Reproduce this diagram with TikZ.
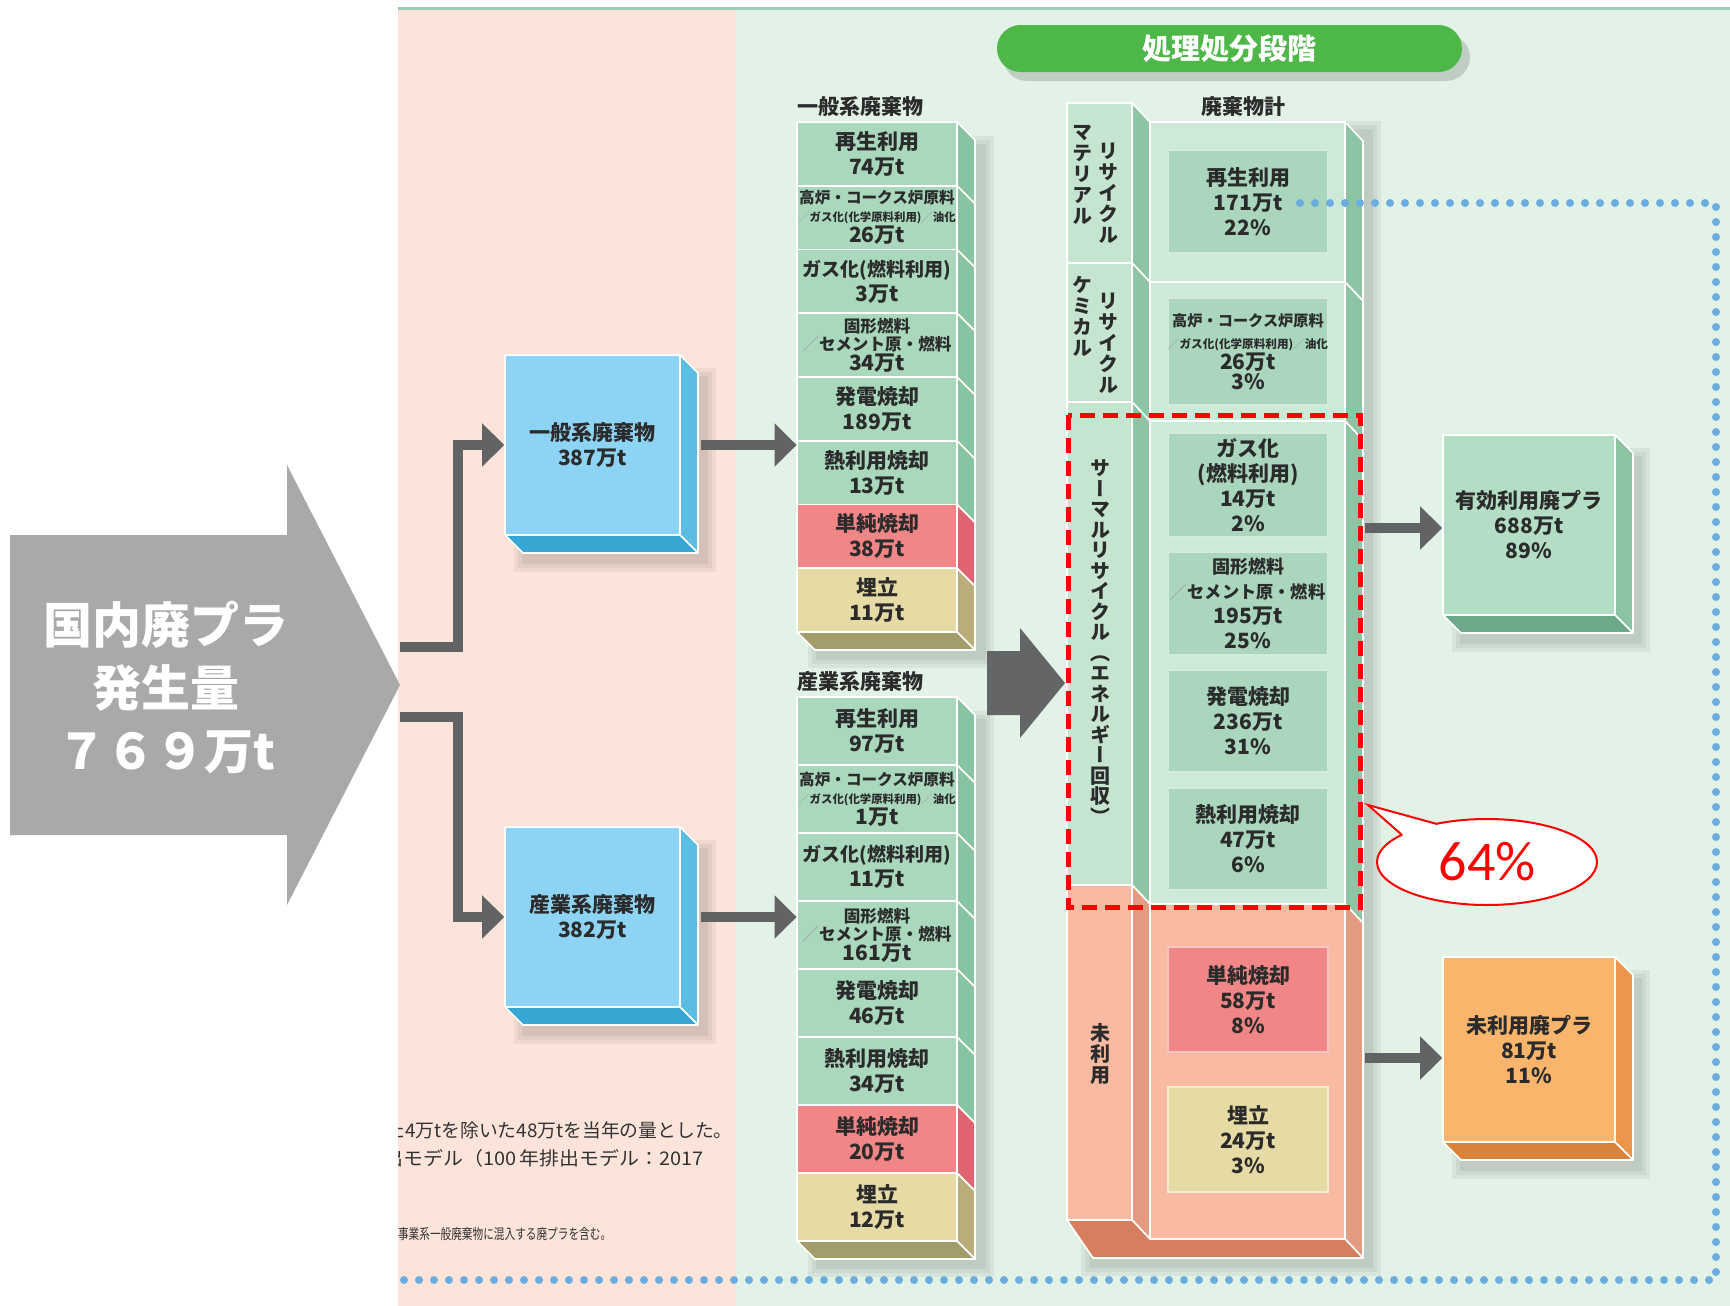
\documentclass[tikz,border=0pt]{standalone}
\usepackage{fontspec}
\usepackage{graphicx}
\setmainfont{Noto Sans CJK JP}
\newfontfamily\vjp{Noto Sans CJK JP}[RawFeature=+vert]
\newfontfamily\calib{Carlito}
\usetikzlibrary{arrows.meta,shapes.geometric}
\definecolor{pinkbg}{HTML}{FCE4DA}
\definecolor{greenbg}{HTML}{E2F2E6}
\definecolor{topline}{HTML}{9FCBB6}
\definecolor{arrowgray}{HTML}{AAA8A8}
\definecolor{conngray}{HTML}{626365}
\definecolor{darkarrow}{HTML}{646567}
\definecolor{pillgreen}{HTML}{4DB748}
\definecolor{bluef}{HTML}{8DD3F4}
\definecolor{blues}{HTML}{5BBCE4}
\definecolor{blueb}{HTML}{36A6D3}
\definecolor{rowg}{HTML}{A9D8BD}
\definecolor{rowgs}{HTML}{88C3A2}
\definecolor{rowr}{HTML}{F08686}
\definecolor{rowrs}{HTML}{DF6470}
\definecolor{rowt}{HTML}{E7DBA5}
\definecolor{rowts}{HTML}{B9AE7B}
\definecolor{rowtb}{HTML}{A39D6C}
\definecolor{towg}{HTML}{CDE9D8}
\definecolor{towgl}{HTML}{C6E5D1}
\definecolor{towgs}{HTML}{8CC4A4}
\definecolor{towp}{HTML}{F8BBA2}
\definecolor{towps}{HTML}{E39B82}
\definecolor{towpb}{HTML}{D67F60}
\definecolor{inng}{HTML}{A9D6BD}
\definecolor{goodf}{HTML}{B3DEC5}
\definecolor{goods}{HTML}{8CC3A3}
\definecolor{goodb}{HTML}{6CA989}
\definecolor{badf}{HTML}{F9B56C}
\definecolor{bads}{HTML}{EA964B}
\definecolor{badb}{HTML}{D8823A}
\definecolor{dotblue}{HTML}{6CADE0}
\definecolor{txt}{HTML}{2B2B2B}
\definecolor{note}{HTML}{333333}
\tikzset{
  conn/.style={draw=conngray,line width=5pt,-{Triangle[width=21pt,length=11pt]}},
  face/.style={draw=white,line width=0.8pt,line join=round},
  txtc/.style={text=txt,align=center,inner sep=0pt,font=\bfseries\fontsize{10.5pt}{12.5pt}\selectfont},
  rowA/.style={face,txtc,minimum width=80pt,minimum height=31.875pt},
  rowB/.style={face,txtc,minimum width=80pt,minimum height=34pt},
  inbox/.style={draw=white!50!inng,line width=0.8pt,txtc,minimum width=80pt},
  vtxt/.style={text=txt,align=center,inner sep=0pt,font=\vjp\bfseries\fontsize{10pt}{10.5pt}\selectfont},
  headtxt/.style={text=txt,inner sep=0pt,font=\bfseries\fontsize{10.5pt}{12pt}\selectfont},
  notetxt/.style={text=note,inner sep=0pt,anchor=west,font=\fontsize{9.4pt}{11pt}\selectfont},
  hidden/.style={inner sep=0pt,draw=none,fill=none},
  spec/.style={font=\bfseries\fontsize{10.5pt}{9pt}\selectfont},
}
\newcommand\slh{{\color{black!35}／}}
\newcommand\softshadow[4]{%
  \fill[black,opacity=0.05] ({#1-4},{#2-4}) rectangle ({#3+4},{#4+4});
  \fill[black,opacity=0.05] (#1,#2) rectangle (#3,#4);
  \fill[black,opacity=0.06] ({#1+4},{#2+4}) rectangle ({#3-4},{#4-4});}
\begin{document}
\begin{tikzpicture}[x=0.5pt,y=-0.5pt]
\useasboundingbox (0,0) rectangle (1730,1306);
% backgrounds
\fill[white] (0,0) rectangle (1730,1306);
\fill[pinkbg] (398,10) rectangle (736,1306);
\fill[greenbg] (736,10) rectangle (1730,1306);
\draw[topline,line width=1.5pt] (398,8) -- (1730,8);

% title pill
\fill[black,opacity=0.15,rounded corners=12pt] (1003,34) rectangle (1470,81);
\node[fill=pillgreen,rounded corners=11.75pt,minimum width=232.5pt,minimum height=23.5pt,text=white,inner sep=0pt,font=\bfseries\fontsize{14.5pt}{16pt}\selectfont] (title) at (1229.5,48.5) {処理処分段階};

% big source arrow
\fill[arrowgray] (10,535) -- (287,535) -- (287,465) -- (400,685) -- (287,905) -- (287,835) -- (10,835) -- cycle;
\node[text=white,align=center,inner sep=0pt,font=\bfseries\fontsize{24.5pt}{31.5pt}\selectfont] (src) at (166,688) {国内廃プラ\\発生量\\７６９万t};
\coordinate (tA) at (400,647);
\coordinate (tB) at (400,717);

% hidden column frames
\node[hidden,minimum width=80pt,minimum height=255pt] (colA) at (877,377) {};
\node[hidden,minimum width=80pt,minimum height=272pt] (colB) at (877,969) {};
\node[hidden,minimum width=97.5pt,minimum height=558.5pt] (towerM) at (1247.5,680.5) {};

% shadows
\softshadow{518}{372}{712}{568}
\softshadow{518}{844}{712}{1040}
\softshadow{812}{140}{990}{664}
\softshadow{812}{715}{990}{1273}
\softshadow{1085}{125}{1377}{1272}
\softshadow{1456}{452}{1646}{648}
\softshadow{1456}{974}{1646}{1175}

% blue boxes
\node[face,fill=bluef,txtc,minimum width=87.5pt,minimum height=90pt] (gen) at (592.5,445) {一般系廃棄物\\387万t};
\filldraw[face,fill=blues] (680,355) -- (698,373) -- (698,553) -- (680,535) -- cycle;
\filldraw[face,fill=blueb] (505,535) -- (680,535) -- (698,553) -- (523,553) -- cycle;
\node[face,fill=bluef,txtc,minimum width=87.5pt,minimum height=90pt] (ind) at (592.5,917) {産業系廃棄物\\382万t};
\filldraw[face,fill=blues] (680,827) -- (698,845) -- (698,1025) -- (680,1007) -- cycle;
\filldraw[face,fill=blueb] (505,1007) -- (680,1007) -- (698,1025) -- (523,1025) -- cycle;

% column A
\node[headtxt,anchor=west] (hA) at (797,107) {一般系廃棄物};
\foreach \ya/\yb/\c in {122/185.75/rowgs,185.75/249.5/rowgs,249.5/313.25/rowgs,313.25/377/rowgs,377/440.75/rowgs,440.75/504.5/rowgs,504.5/568.25/rowrs,568.25/632/rowts}
  \filldraw[face,fill=\c] (957,\ya) -- (975,{\ya+18}) -- (975,{\yb+18}) -- (957,\yb) -- cycle;
\filldraw[face,fill=rowtb] (797,632) -- (957,632) -- (975,650) -- (815,650) -- cycle;
\node[rowA,fill=rowg] (a1) at (877,153.875) {再生利用\\74万t};
\node[rowA,fill=rowg,spec] (a2) at (877,217.625) {{\fontsize{7.8pt}{9pt}\selectfont 高炉・コークス炉原料}\\{\fontsize{5.7pt}{9pt}\selectfont \slh ガス化(化学原料利用)\slh 油化}\\26万t};
\node[rowA,fill=rowg] (a3) at (877,281.375) {{\fontsize{9.5pt}{12.5pt}\selectfont ガス化(燃料利用)}\\3万t};
\node[rowA,fill=rowg,spec] (a4) at (877,345.125) {{\fontsize{8.3pt}{9pt}\selectfont 固形燃料}\\{\fontsize{8.3pt}{9pt}\selectfont \slh セメント原・燃料}\\34万t};
\node[rowA,fill=rowg] (a5) at (877,408.875) {発電焼却\\189万t};
\node[rowA,fill=rowg] (a6) at (877,472.625) {熱利用焼却\\13万t};
\node[rowA,fill=rowr] (a7) at (877,536.375) {単純焼却\\38万t};
\node[rowA,fill=rowt] (a8) at (877,600.125) {埋立\\11万t};

% column B
\node[headtxt,anchor=west] (hB) at (797,682) {産業系廃棄物};
\foreach \ya/\yb/\c in {697/765/rowgs,765/833/rowgs,833/901/rowgs,901/969/rowgs,969/1037/rowgs,1037/1105/rowgs,1105/1173/rowrs,1173/1241/rowts}
  \filldraw[face,fill=\c] (957,\ya) -- (975,{\ya+18}) -- (975,{\yb+18}) -- (957,\yb) -- cycle;
\filldraw[face,fill=rowtb] (797,1241) -- (957,1241) -- (975,1259) -- (815,1259) -- cycle;
\node[rowB,fill=rowg] (b1) at (877,731) {再生利用\\97万t};
\node[rowB,fill=rowg,spec] (b2) at (877,799) {{\fontsize{7.8pt}{9pt}\selectfont 高炉・コークス炉原料}\\{\fontsize{5.7pt}{9pt}\selectfont \slh ガス化(化学原料利用)\slh 油化}\\1万t};
\node[rowB,fill=rowg] (b3) at (877,867) {{\fontsize{9.5pt}{12.5pt}\selectfont ガス化(燃料利用)}\\11万t};
\node[rowB,fill=rowg,spec] (b4) at (877,935) {{\fontsize{8.3pt}{9pt}\selectfont 固形燃料}\\{\fontsize{8.3pt}{9pt}\selectfont \slh セメント原・燃料}\\161万t};
\node[rowB,fill=rowg] (b5) at (877,1003) {発電焼却\\46万t};
\node[rowB,fill=rowg] (b6) at (877,1071) {熱利用焼却\\34万t};
\node[rowB,fill=rowr] (b7) at (877,1139) {単純焼却\\20万t};
\node[rowB,fill=rowt] (b8) at (877,1207) {埋立\\12万t};

% connectors left part
\draw[conn] (tA) -- ++(58,0) |- (gen.west);
\draw[conn] (tB) -- ++(58,0) |- (ind.west);
\draw[conn] ([xshift=10pt]gen.east) -- (gen.east -| colA.west);
\draw[conn] ([xshift=10pt]ind.east) -- (ind.east -| colB.west);

% central big arrow
\fill[darkarrow] (987,651) -- (1020,651) -- (1020,628) -- (1065,683) -- (1020,738) -- (1020,715) -- (987,715) -- cycle;

% tower: label column
\node[headtxt] (hT) at (1243,107) {廃棄物計};
\filldraw[face,fill=towgl] (1067,103) rectangle (1132,263);
\filldraw[face,fill=towgl] (1067,263) rectangle (1132,402);
\filldraw[face,fill=towgl] (1067,402) rectangle (1132,885);
\filldraw[face,fill=towp] (1067,885) rectangle (1132,1220);
\foreach \ya/\yb/\c in {103/263/towgs,263/402/towgs,402/885/towgs,885/1220/towps}
  \filldraw[face,fill=\c] (1132,\ya) -- (1150,{\ya+19}) -- (1150,{\yb+19}) -- (1132,\yb) -- cycle;
% tower: main column
\foreach \ya/\yb/\c in {122/282/towg,282/421/towg,421/904/towg,904/1239/towp}
  \filldraw[face,fill=\c] (1150,\ya) rectangle (1345,\yb);
\foreach \ya/\yb/\c in {122/282/towgs,282/421/towgs,421/904/towgs,904/1239/towps}
  \filldraw[face,fill=\c] (1345,\ya) -- (1363,{\ya+19}) -- (1363,{\yb+19}) -- (1345,\yb) -- cycle;
\filldraw[face,fill=towpb] (1067,1220) -- (1132,1220) -- (1150,1239) -- (1345,1239) -- (1363,1258) -- (1093,1258) -- cycle;

% tower inner boxes
\node[inbox,fill=inng,minimum height=51.5pt] (t1) at (1248,201.5) {再生利用\\171万t\\22\%};
\node[inbox,fill=inng,minimum height=53.5pt,spec] (t2) at (1248,351.5) {{\fontsize{7.6pt}{9pt}\selectfont 高炉・コークス炉原料}\\[2pt]{\fontsize{5.8pt}{9pt}\selectfont \slh ガス化(化学原料利用)\slh 油化}\\26万t\\[1pt]3\%};
\node[inbox,fill=inng,minimum height=52pt] (t3) at (1248,485) {ガス化\\(燃料利用)\\14万t\\2\%};
\node[inbox,fill=inng,minimum height=51.5pt] (t4) at (1248,603.5) {{\fontsize{9pt}{12.5pt}\selectfont 固形燃料}\\{\fontsize{8.6pt}{12.5pt}\selectfont \slh セメント原・燃料}\\195万t\\25\%};
\node[inbox,fill=inng,minimum height=51pt] (t5) at (1248,721) {発電焼却\\236万t\\31\%};
\node[inbox,fill=inng,minimum height=51pt] (t6) at (1248,839) {熱利用焼却\\47万t\\6\%};
\node[inbox,draw=white!50!rowr,fill=rowr,minimum height=52.5pt] (t7) at (1248,999.5) {単純焼却\\58万t\\8\%};
\node[inbox,draw=white!50!rowt,fill=rowt,minimum height=52.5pt] (t8) at (1248,1139.5) {埋立\\24万t\\3\%};

% vertical labels
\node[vtxt] (vm1) at (1082,175) {マ\\テ\\リ\\ア\\ル};
\node[vtxt] (vm2) at (1108,193) {リ\\サ\\イ\\ク\\ル};
\node[vtxt] (vc1) at (1082,316) {ケ\\ミ\\カ\\ル};
\node[vtxt] (vc2) at (1108,343) {リ\\サ\\イ\\ク\\ル};
\node[vtxt,font=\vjp\bfseries\fontsize{10pt}{10.25pt}\selectfont] (vt) at (1100,642) {サ\\ー\\マ\\ル\\リ\\サ\\イ\\ク\\ル\\（\\エ\\ネ\\ル\\ギ\\ー\\回\\収\\）};
\node[vtxt] (vu) at (1100,1054) {未\\利\\用};

% output boxes
\node[face,fill=goodf,txtc,minimum width=86pt,minimum height=90pt] (good) at (1529,525) {有効利用廃プラ\\688万t\\89\%};
\filldraw[face,fill=goods] (1615,435) -- (1633,453) -- (1633,633) -- (1615,615) -- cycle;
\filldraw[face,fill=goodb] (1443,615) -- (1615,615) -- (1633,633) -- (1461,633) -- cycle;
\node[face,fill=badf,txtc,minimum width=86pt,minimum height=92.5pt] (bad) at (1529,1049.5) {未利用廃プラ\\81万t\\11\%};
\filldraw[face,fill=bads] (1615,957) -- (1633,975) -- (1633,1160) -- (1615,1142) -- cycle;
\filldraw[face,fill=badb] (1443,1142) -- (1615,1142) -- (1633,1160) -- (1461,1160) -- cycle;

\coordinate (g0) at (1365,528);
\coordinate (b0) at (1365,1058);
\draw[conn] (g0) -- (g0 -| good.west);
\draw[conn] (b0) -- (b0 -| bad.west);

% red dashed frame
\draw[red,line width=2.5pt,dash pattern=on 7.5pt off 4pt] (1068,415) rectangle (1360,907);

% callout
\node[ellipse,draw=red,line width=1pt,fill=white,minimum width=110pt,minimum height=43pt,inner sep=0pt,text=red,font=\calib\fontsize{28pt}{30pt}\selectfont] (c64) at (1487,862) {64\%};
\coordinate (ptip) at (1368,805);
\coordinate (pb1) at (1402,835);
\coordinate (pb2) at (1437,824);
\fill[white] (pb1) -- (ptip) -- (pb2) -- (1425,846) -- cycle;
\draw[red,line width=1pt] (pb1) -- (ptip) -- (pb2);

% dotted frame
\coordinate (dS) at (1300,203);
\draw[dotblue,line width=4pt,line cap=round,dash pattern=on 0pt off 7.5pt] (dS) -- (1716,203) -- (1716,1280) -- (398,1280);

% notes (cropped)
\begin{scope}
\clip (398,1095) rectangle (736,1262);
\node[notetxt] (n1) at (386,1130) {た4万tを除いた48万tを当年の量とした。};
\node[notetxt] (n2) at (383,1158) {\scalebox{1.06}[1]{出モデル（100\,年排出モデル：2017}};
\node[notetxt,font=\fontsize{7.2pt}{8pt}\selectfont] (n3) at (387,1234) {\scalebox{0.74}[1]{び事業系一般廃棄物に混入する廃プラを含む。}};
\end{scope}
\end{tikzpicture}
\end{document}
